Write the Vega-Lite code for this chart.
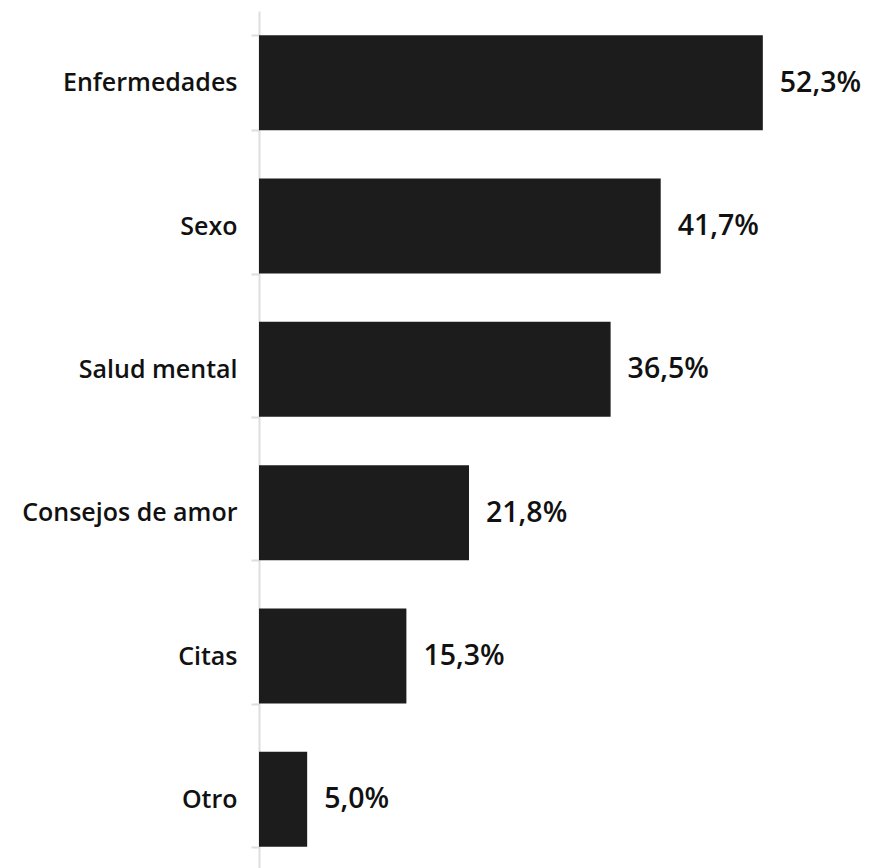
{
  "$schema": "https://vega.github.io/schema/vega-lite/v6.json",
  "width": 578,
  "height": 860,
  "padding": {"top": 11, "left": 259, "right": 36, "bottom": 0},
  "autosize": {"type": "none"},
  "background": "white",
  "config": {"view": {"stroke": null}},
  "data": {"values": [
    {"tema": "Enfermedades", "pct": 52.3, "label": "52,3%"},
    {"tema": "Sexo", "pct": 41.7, "label": "41,7%"},
    {"tema": "Salud mental", "pct": 36.5, "label": "36,5%"},
    {"tema": "Consejos de amor", "pct": 21.8, "label": "21,8%"},
    {"tema": "Citas", "pct": 15.3, "label": "15,3%"},
    {"tema": "Otro", "pct": 5.0, "label": "5,0%"}
  ]},
  "encoding": {
    "y": {
      "field": "tema", "type": "nominal", "sort": null, "title": null,
      "scale": {"paddingInner": 0.337, "paddingOuter": 0.1685},
      "axis": {
        "domainColor": "#dddddd", "domainWidth": 2,
        "tickColor": "#dddddd", "tickWidth": 2, "tickSize": 8, "tickBand": "extent",
        "labelFont": "Open Sans", "labelFontSize": 25, "labelFontWeight": 600,
        "labelColor": "#111111", "labelPadding": 14, "labelLimit": 400
      }
    },
    "x": {
      "field": "pct", "type": "quantitative",
      "scale": {"domain": [0, 60]}, "axis": null
    }
  },
  "layer": [
    {"mark": {"type": "bar", "color": "#1c1c1c"}},
    {
      "mark": {"type": "text", "align": "left", "baseline": "middle", "dx": 17,
               "font": "Open Sans", "fontSize": 28.5, "fontWeight": 600, "color": "#111111"},
      "encoding": {"text": {"field": "label"}}
    }
  ]
}
